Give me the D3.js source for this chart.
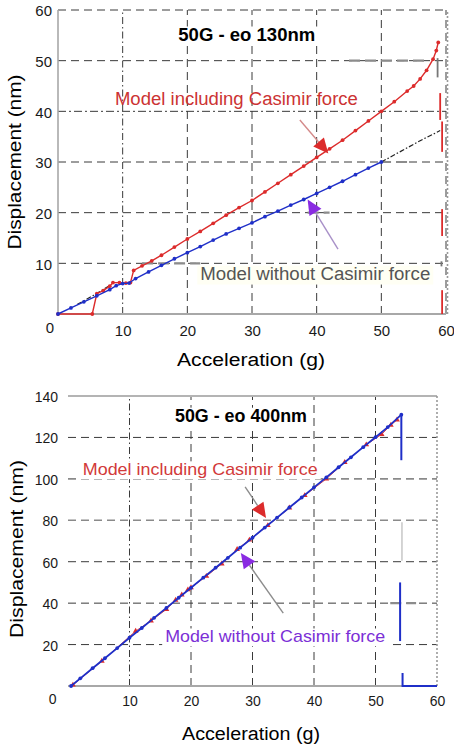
<!DOCTYPE html>
<html>
<head>
<meta charset="utf-8">
<script src="https://cdn.jsdelivr.net/npm/d3@7"></script>
<style>
  body { margin: 0; background: #fff; }
  svg { display: block; }
</style>
</head>
<body>
<svg id="chart" width="454" height="748"></svg>
<script>
// ---------- data (acceleration in g, displacement in nm) ----------
var ACCEL_TICKS = [0, 10, 20, 30, 40, 50, 60];
var DISP_TICKS_130 = [0, 10, 20, 30, 40, 50, 60];
var DISP_TICKS_400 = [0, 20, 40, 60, 80, 100, 120, 140];

// eo = 130 nm
var withCasimir130 = [
    [0, 0], [5.3, 0], [6, 4], [7, 4.6], [8, 5.5], [8.5, 6.2], [9.5, 6.2], [10.5, 6.1],
    [11.2, 6.2], [11.7, 8.6], [13, 9.5], [14.5, 10.5], [16, 11.6], [18, 13.2], [20, 14.8],
    [22, 16.3], [24, 17.9], [26, 19.5], [28, 21], [30, 22.4], [32, 24.1], [34, 25.8],
    [36, 27.5], [38, 29.2], [40, 30.9], [42, 32.6], [44, 34.3], [46, 36.2], [48, 38.1],
    [50, 40], [52, 41.9], [54, 44], [55, 45], [56, 46.4], [57, 48.1], [58, 50.3],
    [58.5, 52], [58.8, 53.6]
];
var withoutCasimir130 = [
    [0, 0], [2, 1.2], [4, 2.4], [6, 3.6], [8, 4.8], [9, 5.6], [10, 6], [11, 6.1], [12, 7],
    [14, 8.3], [16, 9.6], [18, 10.9], [20, 12.1], [22, 13.3], [24, 14.6], [26, 15.8],
    [28, 16.9], [30, 18], [32, 19.2], [34, 20.3], [36, 21.5], [38, 22.6], [40, 23.8],
    [42, 25], [44, 26.2], [46, 27.5], [48, 28.8], [50, 30]
];
var fitStart130 = [[3, 1.9], [5.5, 3.7], [8, 5.6]];
var fitTail130 = [[50, 30], [53, 32.1], [56, 34.2], [59.1, 36.2]];
// pull-in traces near 60 g : [g, nm from, nm to]
var pullInWith130 = [[59.1, 38.3, 43.6], [59.4, 32, 38], [59.4, 15.4, 20.7], [59.4, 0, 4.7]];
var pullInFit130 = [[58.7, 46.7, 50.5], [59.3, 9.4, 10.4]];

// eo = 400 nm
var withCasimir400 = [
    [0.8, 0.5], [5.5, 12], [11, 26.5], [13.5, 31.5], [16, 37], [17.5, 41.5], [18.5, 44],
    [19.5, 46.5], [20, 47.5], [22.5, 53], [25, 59], [27.5, 66], [29.5, 70.5], [32.5, 77.5],
    [36, 86], [38.5, 92], [42, 100], [45, 108], [48.5, 116.5], [51, 121.5], [52.5, 126],
    [53.5, 128.5]
];
var withoutCasimir400 = [
    [0.5, 0], [2, 3.7], [4, 8.6], [6, 13.4], [8, 18.3], [10, 23.3], [12, 28], [14, 32.9],
    [16, 37.7], [18, 42.6], [20, 47.4], [22, 52.3], [24, 57.1], [26, 61.9], [28, 66.8],
    [30, 71.6], [32, 76.5], [34, 81.3], [36, 86.2], [38, 91], [40, 95.9], [42, 100.7],
    [44, 105.6], [46, 110.4], [48, 115.3], [50, 120.1], [52, 125], [54.2, 131]
];
var pullInWithout400 = [
    [[54.2, 131], [54.2, 109]],
    [[54, 50], [54, 21.7]],
    [[54.4, 6.3], [54.4, 0], [60, 0]]
];
var pullInFit400 = [[54.3, 60.5, 79]];

(function (d3) {
    'use strict';

    var FONT = '"Liberation Sans", Arial, Helvetica, sans-serif',
        RED = '#dc2b2b',
        BLUE = '#1f2fc8',
        PURPLE = '#8a2be2',
        GRID = '#3a3a3a',
        svg = d3.select('#chart');

    var panels = [{
        left: 58, right: 446, top: 10, bottom: 314, yMax: 60,
        yTicks: DISP_TICKS_130, tickSize: 15,
        yTickPad: 6, zeroShift: [2, 14], xTickPad: 11.3,
        topSolid: false, leftAxis: true,
        grayRows: [],
        accents: [[50, 45, 57], [30, 49.8, 54.6], [10, 13, 22], [20, 38.6, 42]],
        series: [
            { pts: withCasimir130, color: RED, width: 1.4 },
            { pts: withoutCasimir130, color: BLUE, width: 1.4 }
        ],
        fits: [fitStart130, fitTail130],
        spikes: [
            { list: pullInWith130, color: RED },
            { list: pullInFit130, color: '#777' }
        ],
        traces: [],
        labels: [
            { text: '50G - eo 130nm', x: 18.6, y: 53.9, size: 18, bold: true, color: '#000', width: 137 },
            { text: 'Model including Casimir force', x: 8.8, y: 41.3, size: 18, color: '#cc3333', width: 243, noBox: true },
            { text: 'Model without Casimir force', x: 22, y: 6.7, size: 18, color: '#555', width: 230, fill: '#fffff4' }
        ],
        arrows: [
            { from: [37.4, 38.3], to: [41.8, 31.7], line: '#d48a8a', head: RED },
            { from: [43.3, 12.8], to: [38.6, 22.6], line: '#a890c8', head: PURPLE }
        ],
        yTitle: { x: 21, y: 162, width: 175 },
        xTitle: { x: 251, y: 366, width: 148 }
    }, {
        left: 68, right: 437, top: 396, bottom: 686, yMax: 140,
        yTicks: DISP_TICKS_400, tickSize: 14,
        yTickPad: 10, zeroShift: [-1.5, 13.5], xTickPad: 10,
        topSolid: true, leftAxis: false,
        grayRows: [80, 100],
        accents: [[40, 52.4, 56.6]],
        series: [
            { pts: withCasimir400, color: RED, width: 0.9, triangles: true },
            { pts: withoutCasimir400, color: BLUE, width: 1.8 }
        ],
        fits: [],
        spikes: [
            { list: pullInFit400, color: '#d0d0d0' }
        ],
        traces: [{ list: pullInWithout400, color: BLUE }],
        labels: [
            { text: '50G - eo 400nm', x: 17.4, y: 127.4, size: 18, bold: true, color: '#000', width: 132 },
            { text: 'Model including Casimir force', x: 2.4, y: 101.9, size: 17, color: '#d23a3a', width: 235 },
            { text: 'Model without Casimir force', x: 15.8, y: 21.2, size: 17, color: '#7b2fd6', width: 220 }
        ],
        arrows: [
            { from: [28.8, 96.1], to: [32.2, 81.1], line: '#8c8c8c', head: RED },
            { from: [35, 35.2], to: [28.1, 64.2], line: '#8c8c8c', head: PURPLE }
        ],
        yTitle: { x: 23, y: 549, width: 178 },
        xTitle: { x: 251, y: 740, width: 138 }
    }];

    /**
     * arrow: thin shaft with a filled triangular head at the tip
     */
    function drawArrow(g, x, y, a) {
        var x0 = x(a.from[0]), y0 = y(a.from[1]),
            x1 = x(a.to[0]), y1 = y(a.to[1]),
            dx = x1 - x0, dy = y1 - y0,
            len = Math.sqrt(dx * dx + dy * dy),
            ux = dx / len, uy = dy / len,
            L = 15, W = 7,
            bx = x1 - ux * L, by = y1 - uy * L;

        g.append('line')
            .attr('x1', x0).attr('y1', y0)
            .attr('x2', bx).attr('y2', by)
            .attr('stroke', a.line)
            .attr('stroke-width', 1.4);
        g.append('path')
            .attr('d', 'M' + x1 + ',' + y1 +
                'L' + (bx - uy * W) + ',' + (by + ux * W) +
                'L' + (bx + uy * W) + ',' + (by - ux * W) + 'Z')
            .attr('fill', a.head);
    }

    function drawPanel(p) {
        var x = d3.scaleLinear().domain([0, 60]).range([p.left, p.right]),
            y = d3.scaleLinear().domain([0, p.yMax]).range([p.bottom, p.top]),
            line = d3.line()
                .x(function (d) { return x(d[0]); })
                .y(function (d) { return y(d[1]); }),
            g = svg.append('g');

        // grid rows
        var rows = p.yTicks.filter(function (v) { return v > 0 && (v < p.yMax || !p.topSolid); });
        g.selectAll('line.row').data(rows).enter().append('line')
            .attr('x1', x(0)).attr('x2', x(60))
            .attr('y1', function (d) { return y(d); })
            .attr('y2', function (d) { return y(d); })
            .attr('stroke', function (d) { return p.grayRows.indexOf(d) >= 0 ? '#8a8a8a' : GRID; })
            .attr('stroke-width', function (d) { return p.grayRows.indexOf(d) >= 0 ? 1.6 : 1; })
            .attr('stroke-dasharray', function (d) { return d === 40 && !p.topSolid ? '8,3,2,3' : '8,5'; });

        // grid columns
        var cols = ACCEL_TICKS.filter(function (v) { return v > 0 && (v < 60 || !p.topSolid); });
        g.selectAll('line.col').data(cols).enter().append('line')
            .attr('x1', function (d) { return x(d); })
            .attr('x2', function (d) { return x(d); })
            .attr('y1', y(0)).attr('y2', y(p.yMax))
            .attr('stroke', GRID)
            .attr('stroke-width', 1)
            .attr('stroke-dasharray', function (d) { return d === 10 ? '7,3,1.5,3' : '8,5'; });

        // heavier grey dashes over some rows
        g.selectAll('line.accent').data(p.accents).enter().append('line')
            .attr('x1', function (d) { return x(d[1]); })
            .attr('x2', function (d) { return x(d[2]); })
            .attr('y1', function (d) { return y(d[0]); })
            .attr('y2', function (d) { return y(d[0]); })
            .attr('stroke', '#8c8c8c')
            .attr('stroke-width', 2.2)
            .attr('stroke-dasharray', '11,5');

        // frame
        var frameColor = '#a8a8a8';
        g.append('line')
            .attr('x1', x(0)).attr('x2', x(60))
            .attr('y1', y(0)).attr('y2', y(0))
            .attr('stroke', frameColor).attr('stroke-width', 2);
        if (p.leftAxis) {
            g.append('line')
                .attr('x1', x(0)).attr('x2', x(0))
                .attr('y1', y(0)).attr('y2', y(p.yMax))
                .attr('stroke', frameColor).attr('stroke-width', 1.6);
        }
        if (p.topSolid) {
            g.append('line')
                .attr('x1', x(0)).attr('x2', x(60))
                .attr('y1', y(p.yMax)).attr('y2', y(p.yMax))
                .attr('stroke', '#b4b4b4').attr('stroke-width', 2);
        }
        g.append('line')
            .attr('x1', x(60) + (p.topSolid ? 0 : 1.5)).attr('x2', x(60) + (p.topSolid ? 0 : 1.5))
            .attr('y1', y(0)).attr('y2', y(p.yMax))
            .attr('stroke', '#9a9a9a').attr('stroke-width', 1.6)
            .attr('stroke-dasharray', '2,2');

        // label boxes (hide grid under text) come before the data
        var labelG = g.append('g');

        // fitted model dash-dot lines
        p.fits.forEach(function (f) {
            g.append('path')
                .attr('d', line(f))
                .attr('fill', 'none')
                .attr('stroke', '#222')
                .attr('stroke-width', 1.2)
                .attr('stroke-dasharray', '5,2,1.5,2');
        });

        // series
        p.series.forEach(function (s) {
            g.append('path')
                .attr('d', line(s.pts))
                .attr('fill', 'none')
                .attr('stroke', s.color)
                .attr('stroke-width', s.width);
            if (s.triangles) {
                g.selectAll(null).data(s.pts).enter().append('path')
                    .attr('d', d3.symbol().type(d3.symbolTriangle).size(14))
                    .attr('transform', function (d) { return 'translate(' + x(d[0]) + ',' + y(d[1]) + ')'; })
                    .attr('fill', s.color);
            } else {
                g.selectAll(null).data(s.pts).enter().append('circle')
                    .attr('cx', function (d) { return x(d[0]); })
                    .attr('cy', function (d) { return y(d[1]); })
                    .attr('r', 1.9)
                    .attr('fill', s.color);
            }
        });

        // pull-in traces
        p.spikes.forEach(function (s) {
            g.selectAll(null).data(s.list).enter().append('line')
                .attr('x1', function (d) { return x(d[0]); })
                .attr('x2', function (d) { return x(d[0]); })
                .attr('y1', function (d) { return y(d[1]); })
                .attr('y2', function (d) { return y(d[2]); })
                .attr('stroke', s.color)
                .attr('stroke-width', 1.8);
        });
        p.traces.forEach(function (t) {
            t.list.forEach(function (pts) {
                g.append('path')
                    .attr('d', line(pts))
                    .attr('fill', 'none')
                    .attr('stroke', t.color)
                    .attr('stroke-width', 2);
            });
        });

        // annotations
        p.labels.forEach(function (l) {
            var tx = x(l.x), ty = y(l.y);
            if (!l.noBox) {
                labelG.append('rect')
                    .attr('x', tx - 3).attr('y', ty - l.size * 0.8)
                    .attr('width', l.width + 6).attr('height', l.size * 1.05)
                    .attr('fill', l.fill || '#fff');
            }
            g.append('text')
                .attr('x', tx).attr('y', ty)
                .attr('font-family', FONT)
                .attr('font-size', l.size)
                .attr('font-weight', l.bold ? 'bold' : 'normal')
                .attr('fill', l.color)
                .attr('textLength', l.width)
                .attr('lengthAdjust', 'spacingAndGlyphs')
                .text(l.text);
        });
        p.arrows.forEach(function (a) { drawArrow(g, x, y, a); });

        // axes
        var yAxis = g.append('g')
            .attr('transform', 'translate(' + p.left + ',0)')
            .call(d3.axisLeft(y).tickValues(p.yTicks).tickSize(0).tickPadding(p.yTickPad)
                .tickFormat(d3.format('d')));
        var xAxis = g.append('g')
            .attr('transform', 'translate(0,' + p.bottom + ')')
            .call(d3.axisBottom(x).tickValues(ACCEL_TICKS.filter(function (v) { return v > 0; }))
                .tickSize(0).tickPadding(p.xTickPad).tickFormat(d3.format('d')));
        [yAxis, xAxis].forEach(function (ax) {
            ax.select('.domain').remove();
            ax.selectAll('text')
                .attr('font-family', FONT)
                .attr('font-size', p.tickSize)
                .attr('fill', '#1a1a1a');
        });
        yAxis.selectAll('.tick text')
            .attr('transform', function (d) {
                return d === 0 ? 'translate(' + p.zeroShift[0] + ',' + p.zeroShift[1] + ')' : 'translate(0,1)';
            });

        // axis titles
        g.append('text')
            .attr('transform', 'translate(' + p.yTitle.x + ',' + p.yTitle.y + ') rotate(-90)')
            .attr('text-anchor', 'middle')
            .attr('font-family', FONT)
            .attr('font-size', 19)
            .attr('fill', '#000')
            .attr('textLength', p.yTitle.width)
            .attr('lengthAdjust', 'spacingAndGlyphs')
            .text('Displacement (nm)');
        g.append('text')
            .attr('x', p.xTitle.x).attr('y', p.xTitle.y)
            .attr('text-anchor', 'middle')
            .attr('font-family', FONT)
            .attr('font-size', 18)
            .attr('fill', '#000')
            .attr('textLength', p.xTitle.width)
            .attr('lengthAdjust', 'spacingAndGlyphs')
            .text('Acceleration (g)');
    }

    panels.forEach(drawPanel);

})(d3);
</script>
</body>
</html>
